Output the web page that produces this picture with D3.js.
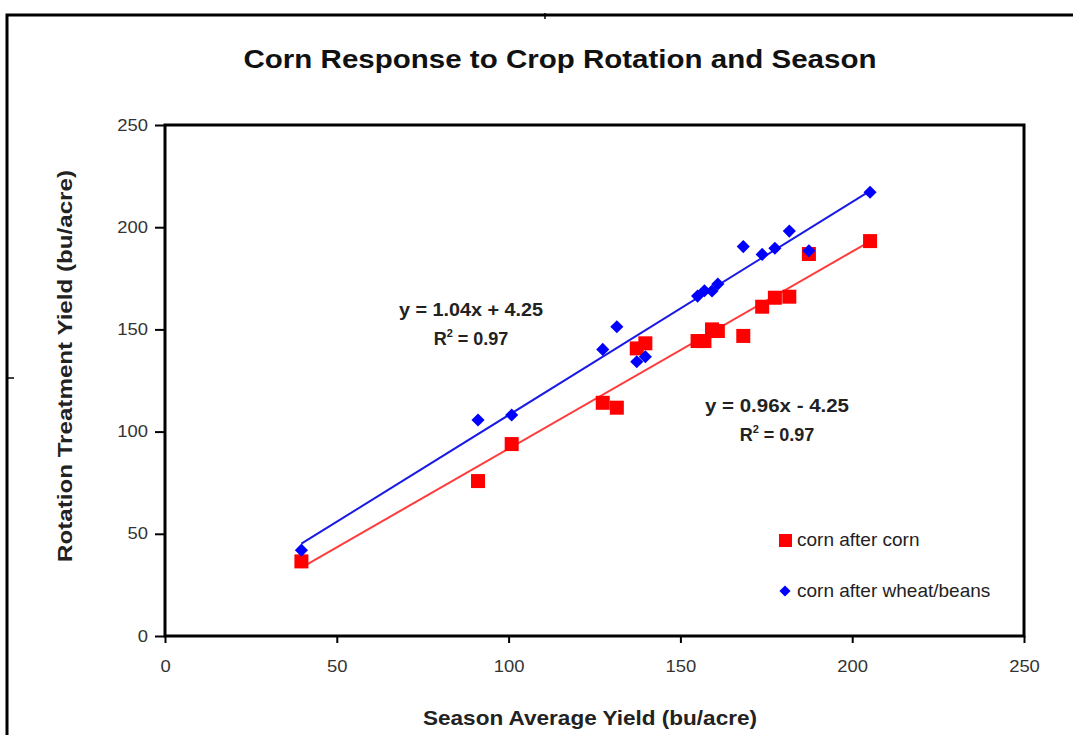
<!DOCTYPE html>
<html>
<head>
<meta charset="utf-8">
<script src="https://cdn.jsdelivr.net/npm/d3@7"></script>
<style>
  body { margin: 0; background: #fff; }
  svg { display: block; font-family: Arial, "Liberation Sans", sans-serif; }
  .tick text { fill: #333; font-size: 16px; }
</style>
</head>
<body>
<div id="holder"></div>
<script>
const w = 1073;
const h = 735;

// DATA
// season average yield (x), shared by both treatments
const seasonAvg = [39.7, 91.1, 100.9, 127.4, 131.5, 137.3, 139.8, 155.0, 157.0, 159.2, 160.9, 168.3, 173.8, 177.5, 181.7, 187.4, 205.2];
const cornAfterCorn = [36.5, 75.8, 93.9, 114.1, 111.7, 140.7, 143.2, 144.3, 144.3, 150.0, 149.2, 146.8, 161.1, 165.5, 166.0, 186.9, 193.2];
const cornAfterWheat = [42.0, 105.7, 108.1, 140.2, 151.3, 134.2, 136.6, 166.3, 168.9, 168.8, 172.2, 190.5, 186.7, 189.7, 198.1, 188.5, 217.1];
const seriesNames = ["corn after corn", "corn after wheat/beans"];
const equations = [["y = 0.96x - 4.25", "0.97"], ["y = 1.04x + 4.25", "0.97"]];
const ticks = [0, 50, 100, 150, 200, 250];

const svg = d3.select("#holder")
  .append("svg")
  .attr("width", w)
  .attr("height", h);

// stretch text horizontally like the scanned original
function stretch(sel, k) {
  sel.each(function () {
    const len = this.getComputedTextLength();
    d3.select(this).attr("textLength", len * k).attr("lengthAdjust", "spacingAndGlyphs");
  });
}

// outer frame (partial, as in the scan)
svg.append("path")
  .attr("d", "M7,735 V15 H1073")
  .attr("fill", "none")
  .attr("stroke", "#000")
  .attr("stroke-width", 3);
svg.append("line").attr("x1", 545).attr("x2", 545).attr("y1", 13).attr("y2", 19).attr("stroke", "#000").attr("stroke-width", 1.5);
svg.append("line").attr("x1", 8).attr("x2", 14).attr("y1", 378).attr("y2", 378).attr("stroke", "#000").attr("stroke-width", 1.5);

// SCALES
const xScale = d3.scaleLinear().domain([0, 250]).range([165, 1024]);
const yScale = d3.scaleLinear().domain([0, 250]).range([636, 125]);

// TITLE
svg.append("text")
  .attr("x", 560)
  .attr("y", 68)
  .attr("text-anchor", "middle")
  .attr("textLength", 633)
  .attr("lengthAdjust", "spacingAndGlyphs")
  .style("font-size", "26px")
  .style("font-weight", "bold")
  .style("fill", "#111")
  .text("Corn Response to Crop Rotation and Season");

// AXES
const xAxis = d3.axisBottom(xScale).tickValues(ticks).tickSize(7).tickPadding(18);
const yAxis = d3.axisLeft(yScale).tickValues(ticks).tickSize(10).tickPadding(7);

svg.append("g")
  .attr("transform", "translate(0," + yScale(0) + ")")
  .call(xAxis)
  .call(g => g.select(".domain").remove())
  .call(g => g.selectAll(".tick line").attr("stroke-width", 2))
  .call(g => stretch(g.selectAll(".tick text"), 1.15));

svg.append("g")
  .attr("transform", "translate(" + xScale(0) + ",0)")
  .call(yAxis)
  .call(g => g.select(".domain").remove())
  .call(g => g.selectAll(".tick line").attr("stroke-width", 2))
  .call(g => stretch(g.selectAll(".tick text"), 1.15));

// plot frame
svg.append("rect")
  .attr("x", xScale(0))
  .attr("y", yScale(250))
  .attr("width", xScale(250) - xScale(0))
  .attr("height", yScale(0) - yScale(250))
  .attr("fill", "none")
  .attr("stroke", "#000")
  .attr("stroke-width", 3);

// AXIS TITLES
svg.append("text")
  .attr("x", 590)
  .attr("y", 725)
  .attr("text-anchor", "middle")
  .attr("textLength", 334)
  .attr("lengthAdjust", "spacingAndGlyphs")
  .style("font-size", "21px")
  .style("font-weight", "bold")
  .style("fill", "#222")
  .text("Season Average Yield (bu/acre)");

svg.append("text")
  .attr("transform", "translate(72,366) rotate(-90)")
  .attr("text-anchor", "middle")
  .attr("textLength", 392)
  .attr("lengthAdjust", "spacingAndGlyphs")
  .style("font-size", "21px")
  .style("font-weight", "bold")
  .style("fill", "#222")
  .text("Rotation Treatment Yield (bu/acre)");

// TREND LINES (least squares)
function fit(xs, ys) {
  const mx = d3.mean(xs), my = d3.mean(ys);
  const b = d3.sum(xs, (x, i) => (x - mx) * (ys[i] - my)) / d3.sum(xs, x => (x - mx) * (x - mx));
  return { b: b, a: my - b * mx };
}
const xMin = d3.min(seasonAvg), xMax = d3.max(seasonAvg);
const lineColors = ["#ff3b3b", "#1a1ae6"];
[cornAfterCorn, cornAfterWheat].forEach((ys, i) => {
  const f = fit(seasonAvg, ys);
  svg.append("line")
    .attr("x1", xScale(xMin)).attr("y1", yScale(f.a + f.b * xMin))
    .attr("x2", xScale(xMax)).attr("y2", yScale(f.a + f.b * xMax))
    .attr("stroke", lineColors[i])
    .attr("stroke-width", 2);
});

// POINTS
const red = "#ff0000";
const blue = "#0000ff";
const sq = 14;
svg.selectAll("rect.cc")
  .data(seasonAvg.map((x, i) => [x, cornAfterCorn[i]]))
  .enter()
  .append("rect")
  .attr("class", "cc")
  .attr("x", d => xScale(d[0]) - sq / 2)
  .attr("y", d => yScale(d[1]) - sq / 2)
  .attr("width", sq)
  .attr("height", sq)
  .attr("fill", red);

const diamond = d3.symbol().type(d3.symbolDiamond2).size(110);
svg.selectAll("path.cw")
  .data(seasonAvg.map((x, i) => [x, cornAfterWheat[i]]))
  .enter()
  .append("path")
  .attr("class", "cw")
  .attr("d", diamond)
  .attr("transform", d => "translate(" + xScale(d[0]) + "," + yScale(d[1]) + ")")
  .attr("fill", blue);

// EQUATIONS
const eqPos = [[777, 412], [471, 316]];
equations.forEach((eq, i) => {
  svg.append("text")
    .attr("x", eqPos[i][0])
    .attr("y", eqPos[i][1])
    .attr("text-anchor", "middle")
    .attr("textLength", 144)
    .attr("lengthAdjust", "spacingAndGlyphs")
    .style("font-size", "18px")
    .style("font-weight", "bold")
    .style("fill", "#222")
    .text(eq[0]);
  const r = svg.append("text")
    .attr("x", eqPos[i][0])
    .attr("y", eqPos[i][1] + 29)
    .attr("text-anchor", "middle")
    .style("font-size", "18px")
    .style("font-weight", "bold")
    .style("fill", "#222");
  r.append("tspan").text("R");
  r.append("tspan").attr("dy", -8).style("font-size", "11px").text("2");
  r.append("tspan").attr("dy", 8).text(" = " + eq[1]);
});

// LEGEND
svg.append("rect")
  .attr("x", 779).attr("y", 534)
  .attr("width", 13).attr("height", 13)
  .attr("fill", red);
svg.append("text")
  .attr("x", 797).attr("y", 546)
  .style("font-size", "19px")
  .style("fill", "#222")
  .text(seriesNames[0]);

svg.append("path")
  .attr("d", d3.symbol().type(d3.symbolDiamond2).size(80))
  .attr("transform", "translate(785,591)")
  .attr("fill", blue);
svg.append("text")
  .attr("x", 797).attr("y", 597)
  .style("font-size", "19px")
  .style("fill", "#222")
  .text(seriesNames[1]);
</script>
</body>
</html>
